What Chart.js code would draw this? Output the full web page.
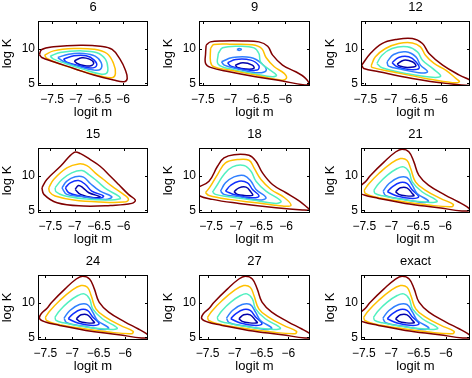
<!DOCTYPE html>
<html>
<head>
<meta charset="utf-8">
<script src="https://cdn.jsdelivr.net/npm/chart.js@4.4.0/dist/chart.umd.min.js"></script>
<style>
html, body { margin: 0; padding: 0; background: #fff; overflow: hidden; }
body { width: 472px; height: 378px; position: relative; }
canvas { position: absolute; }
</style>
</head>
<body>
<script>
const titles = ['6', '9', '12', '15', '18', '21', '24', '27', 'exact'];
const xTicks = [-7.5, -7, -6.5, -6];
const yTicks = [5, 10];
const yMin = 4.6, yMax = 14;
// each panel has its own x limits
const xMin = [-7.8, -7.57, -7.585, -7.75, -7.74, -7.56, -7.64, -7.66, -7.55];
const xMax = [-5.47, -5.55, -5.43, -5.5, -5.52, -5.54, -5.57, -5.6, -5.56];
// outer level -> inner level
const levelColors = ['#800000', '#ffc000', '#50f0c0', '#2f7fff', '#0f2fff', '#0000aa'];

// contour loops: [level, x0, y0, x1, y1, ...]
const c6 = [
  [0, -7.77,9.16, -7.72,9.88, -7.47,10.26, -6.90,10.50, -6.48,10.35, -6.23,9.88, -6.06,8.44, -5.95,6.90, -5.91,5.70, -5.97,5.22, -6.20,5.46, -6.62,6.18, -7.04,7.14, -7.47,8.10, -7.72,8.72],
  [1, -7.66,9.06, -7.47,9.68, -7.04,10.02, -6.62,9.92, -6.34,9.30, -6.20,7.86, -6.16,6.42, -6.23,5.80, -6.48,6.04, -6.90,6.81, -7.33,7.76, -7.61,8.58],
  [2, -7.54,8.92, -7.33,9.44, -6.90,9.68, -6.55,9.40, -6.37,8.44, -6.32,7.14, -6.35,6.42, -6.48,6.33, -6.83,7.00, -7.22,7.86, -7.48,8.53],
  [3, -7.38,8.72, -7.15,9.20, -6.83,9.30, -6.59,8.92, -6.46,7.96, -6.48,7.00, -6.62,6.90, -6.97,7.48, -7.26,8.15],
  [4, -7.26,8.48, -7.04,8.96, -6.78,8.96, -6.61,8.34, -6.56,7.53, -6.69,7.19, -6.94,7.57, -7.19,8.05],
  [5, -7.03,8.24, -6.87,8.68, -6.71,8.48, -6.62,7.96, -6.68,7.53, -6.83,7.57, -6.97,7.86]
];
const c9 = [
  [0, -7.44,10.50, -7.36,10.98, -7.14,11.12, -6.78,11.12, -6.48,10.98, -6.32,10.35, -6.23,9.06, -6.05,7.62, -5.81,6.66, -5.65,5.85, -5.57,4.89, -5.68,4.79, -6.05,5.32, -6.54,5.94, -7.02,6.66, -7.36,7.29, -7.45,7.86, -7.45,9.30],
  [1, -7.36,10.02, -7.30,10.59, -6.96,10.64, -6.60,10.55, -6.43,10.02, -6.35,8.72, -6.20,7.38, -6.02,6.42, -5.98,5.70, -6.08,5.46, -6.54,6.18, -7.02,6.90, -7.30,7.38, -7.36,8.10],
  [2, -7.22,9.30, -7.14,10.12, -6.84,10.35, -6.57,10.12, -6.48,9.30, -6.45,8.10, -6.32,7.14, -6.16,6.18, -6.23,5.94, -6.54,6.33, -6.96,7.00, -7.22,7.76],
  [3, -6.88,9.88, -6.84,10.02, -6.80,9.88, -6.84,9.73],
  [3, -7.16,8.10, -6.96,8.72, -6.63,8.72, -6.43,7.86, -6.35,6.81, -6.54,6.52, -6.90,7.14, -7.11,7.62],
  [4, -7.05,7.96, -6.90,8.44, -6.63,8.34, -6.48,7.53, -6.51,6.90, -6.75,7.00, -6.99,7.48],
  [5, -6.91,7.62, -6.77,7.96, -6.60,7.62, -6.57,7.14, -6.72,7.05, -6.87,7.29]
];
const c12 = [
  [0, -7.57,7.62, -7.40,9.30, -7.17,10.74, -6.90,11.31, -6.57,11.46, -6.37,10.74, -6.24,9.30, -5.97,7.62, -5.64,6.18, -5.38,5.22, -5.38,4.70, -5.91,4.98, -6.57,5.70, -7.23,6.66, -7.53,7.14],
  [1, -7.38,7.62, -7.30,8.82, -7.10,10.02, -6.84,10.74, -6.57,10.83, -6.41,10.26, -6.31,9.06, -6.14,7.86, -5.91,6.90, -5.71,5.70, -5.64,5.22, -5.78,5.08, -6.31,5.70, -6.97,6.66, -7.37,7.29],
  [2, -7.27,7.86, -7.17,9.06, -6.97,10.02, -6.67,10.26, -6.47,9.54, -6.37,8.34, -6.17,7.14, -6.01,6.04, -6.17,5.85, -6.70,6.42, -7.17,7.24],
  [3, -7.07,8.10, -6.94,9.16, -6.70,9.54, -6.50,8.82, -6.41,7.62, -6.27,6.66, -6.44,6.52, -6.77,7.00, -7.04,7.48],
  [4, -6.97,7.96, -6.84,8.72, -6.64,8.82, -6.50,8.10, -6.44,7.14, -6.64,7.00, -6.87,7.38],
  [5, -6.87,7.76, -6.74,8.34, -6.57,8.10, -6.50,7.48, -6.67,7.29, -6.82,7.48]
];
const c15 = [
  [0, -7.67,8.24, -7.57,9.44, -7.29,11.36, -7.01,13.38, -6.88,13.18, -6.68,12.32, -6.48,11.36, -6.27,9.92, -6.10,8.72, -5.90,7.29, -5.76,6.47, -5.83,5.99, -6.27,5.70, -6.82,5.61, -7.36,6.08, -7.63,7.29],
  [1, -7.53,8.24, -7.43,9.44, -7.16,11.12, -6.92,11.70, -6.75,11.46, -6.58,10.40, -6.41,9.44, -6.24,8.48, -6.00,7.29, -5.90,6.57, -6.00,6.18, -6.48,6.18, -7.02,6.47, -7.40,7.05, -7.51,7.62],
  [2, -7.40,8.24, -7.26,9.44, -7.06,10.40, -6.85,10.74, -6.71,10.16, -6.54,9.20, -6.34,8.00, -6.10,7.05, -6.07,6.66, -6.34,6.47, -6.82,6.66, -7.23,7.14, -7.38,7.67],
  [3, -7.26,8.24, -7.16,9.20, -6.99,9.83, -6.82,9.78, -6.68,8.87, -6.48,7.76, -6.24,6.95, -6.37,6.57, -6.82,6.95, -7.16,7.29],
  [4, -7.19,8.24, -7.09,8.96, -6.92,9.30, -6.78,8.72, -6.65,7.76, -6.41,7.05, -6.54,6.71, -6.88,7.05, -7.12,7.53],
  [5, -6.99,8.00, -6.92,8.58, -6.83,8.24, -6.71,7.53, -6.48,6.95, -6.61,6.81, -6.88,7.29]
];
const c18 = [
  [0, -7.78,8.24, -7.54,9.20, -7.37,11.36, -7.24,12.56, -7.04,13.04, -6.74,12.94, -6.60,12.08, -6.47,10.40, -6.27,8.72, -6.00,7.53, -5.73,6.32, -5.57,5.37, -5.52,5.04, -5.67,5.04, -6.20,5.37, -6.94,5.99, -7.47,6.57, -7.78,7.29],
  [1, -7.61,7.53, -7.51,8.48, -7.37,10.16, -7.21,11.84, -6.97,12.32, -6.74,12.23, -6.64,11.12, -6.50,9.44, -6.30,8.00, -6.03,6.81, -5.90,5.70, -6.07,5.61, -6.60,6.08, -7.14,6.57, -7.54,7.14],
  [2, -7.47,7.62, -7.37,8.72, -7.24,10.16, -7.07,11.27, -6.84,11.46, -6.70,10.64, -6.60,9.20, -6.40,7.76, -6.10,6.32, -6.20,5.99, -6.67,6.47, -7.14,6.95, -7.41,7.29],
  [3, -7.31,7.76, -7.21,8.96, -7.04,9.83, -6.84,10.02, -6.70,9.20, -6.60,8.00, -6.40,6.81, -6.54,6.47, -6.94,6.95, -7.24,7.29],
  [4, -7.21,7.76, -7.11,8.58, -6.94,9.20, -6.77,8.96, -6.67,8.00, -6.54,7.05, -6.70,6.81, -7.00,7.19],
  [5, -7.04,7.67, -6.94,8.24, -6.80,8.34, -6.70,7.62, -6.67,7.14, -6.84,7.14, -6.97,7.29]
];
// 21, 24, 27 and exact look the same, only the x limits differ
const cLate = [
  [0, -7.23,6.71, -7.50,7.20, -7.61,7.70, -7.58,8.40, -7.47,9.20, -7.38,10.07, -7.13,11.99, -6.92,13.42, -6.80,13.81, -6.67,13.42, -6.58,11.99, -6.49,10.07, -6.31,8.63, -6.00,7.19, -5.76,6.23, -5.60,5.51, -5.54,5.03, -5.69,4.89, -6.12,5.37, -6.74,5.99],
  [1, -7.50,7.91, -7.41,8.87, -7.23,10.31, -7.01,11.75, -6.83,12.47, -6.71,12.23, -6.64,11.03, -6.55,9.11, -6.37,7.91, -6.09,6.71, -5.85,5.85, -5.88,5.51, -6.31,5.75, -6.86,6.33, -7.32,6.95, -7.48,7.43],
  [2, -7.32,7.91, -7.23,8.87, -7.07,10.07, -6.89,11.03, -6.77,11.27, -6.67,10.55, -6.61,9.11, -6.43,7.67, -6.15,6.33, -6.28,6.13, -6.74,6.47, -7.16,7.09, -7.30,7.43],
  [3, -7.15,7.77, -7.04,8.87, -6.86,9.73, -6.71,9.73, -6.61,8.63, -6.52,7.43, -6.31,6.33, -6.43,6.13, -6.80,6.61, -7.10,7.09],
  [4, -7.07,7.67, -6.98,8.39, -6.83,9.01, -6.71,8.87, -6.61,7.91, -6.49,6.95, -6.61,6.71, -6.89,7.05],
  [5, -6.92,7.67, -6.83,8.24, -6.71,8.24, -6.61,7.43, -6.58,7.09, -6.74,7.09, -6.86,7.29]
];
const contours = [c6, c9, c12, c15, c18, cLate, cLate, cLate, cLate];

Chart.defaults.font.family = '"Liberation Sans", Arial, sans-serif';
Chart.defaults.color = '#000';

const boxLeft = [38, 199, 361];
const boxWidth = [110, 111, 109];
const boxTop = [21, 148, 275];
const yAxisW = 38, titleH = 21, boxH = 65, xAxisH = 37;

const minus = v => String(v).replace('-', '\u2212');

// black box round the axes with inward tick marks
const boxFrame = {
    id: 'boxFrame',
    afterDatasetsDraw(chart) {
        const {ctx, chartArea: a, scales} = chart;
        ctx.save();
        ctx.strokeStyle = '#000';
        ctx.lineWidth = 1;
        ctx.strokeRect(a.left + 0.5, a.top + 0.5, a.right - a.left - 1, a.bottom - a.top - 1);
        ctx.beginPath();
        xTicks.forEach(v => {
            const px = Math.round(scales.x.getPixelForValue(v)) + 0.5;
            ctx.moveTo(px, a.top); ctx.lineTo(px, a.top + 3);
            ctx.moveTo(px, a.bottom); ctx.lineTo(px, a.bottom - 3);
        });
        yTicks.forEach(v => {
            const py = Math.round(scales.y.getPixelForValue(v)) + 0.5;
            ctx.moveTo(a.left, py); ctx.lineTo(a.left + 3, py);
            ctx.moveTo(a.right, py); ctx.lineTo(a.right - 3, py);
        });
        ctx.stroke();
        ctx.restore();
    }
};

function toPoints(flat) {
    const pts = [];
    for (let i = 0; i < flat.length; i += 2) pts.push({x: flat[i], y: flat[i + 1]});
    pts.push(pts[0]);
    return pts;
}

titles.forEach((title, i) => {
    const col = i % 3, row = Math.floor(i / 3);
    const canvas = document.createElement('canvas');
    // same margin on both sides so the title sits over the middle of the box
    canvas.width = yAxisW + boxWidth[col] + yAxisW;
    canvas.height = titleH + boxH + xAxisH;
    canvas.style.left = (boxLeft[col] - yAxisW) + 'px';
    canvas.style.top = (boxTop[row] - titleH) + 'px';
    document.body.appendChild(canvas);

    const datasets = contours[i].map(loop => ({
        data: toPoints(loop.slice(1)),
        showLine: true,
        borderColor: levelColors[loop[0]],
        borderWidth: 1.5,
        pointRadius: 0,
        tension: 0.4,
        fill: false
    }));

    new Chart(canvas, {
        type: 'scatter',
        data: {datasets},
        options: {
            responsive: false,
            animation: false,
            events: [],
            layout: {padding: 0},
            plugins: {
                legend: {display: false},
                tooltip: {enabled: false},
                title: {
                    display: true,
                    text: title,
                    font: {size: 13, weight: 'normal', lineHeight: 1.2},
                    padding: {top: 0, bottom: 5.4}
                }
            },
            scales: {
                x: {
                    min: xMin[i], max: xMax[i],
                    grid: {display: false, drawTicks: false},
                    border: {display: false},
                    afterBuildTicks: s => { s.ticks = xTicks.map(v => ({value: v})); },
                    afterFit: s => { s.height = xAxisH; },
                    ticks: {autoSkip: false, maxRotation: 0, padding: 6, font: {size: 12}, callback: minus},
                    title: {display: true, text: 'logit m', font: {size: 13}, padding: {top: 0, bottom: 3}}
                },
                y: {
                    min: yMin, max: yMax,
                    grid: {display: false, drawTicks: false},
                    border: {display: false},
                    afterBuildTicks: s => { s.ticks = yTicks.map(v => ({value: v})); },
                    afterFit: s => { s.width = yAxisW; },
                    ticks: {autoSkip: false, padding: 3, font: {size: 12}, callback: minus},
                    title: {display: true, text: 'log K', font: {size: 13}, padding: {top: 0, bottom: 0}}
                },
                // empty right margin, keeps the title centred over the box
                yRight: {
                    position: 'right',
                    min: yMin, max: yMax,
                    grid: {display: false, drawTicks: false},
                    border: {display: false},
                    ticks: {display: false},
                    afterFit: s => { s.width = yAxisW; }
                }
            }
        },
        plugins: [boxFrame]
    });
});
</script>
</body>
</html>
